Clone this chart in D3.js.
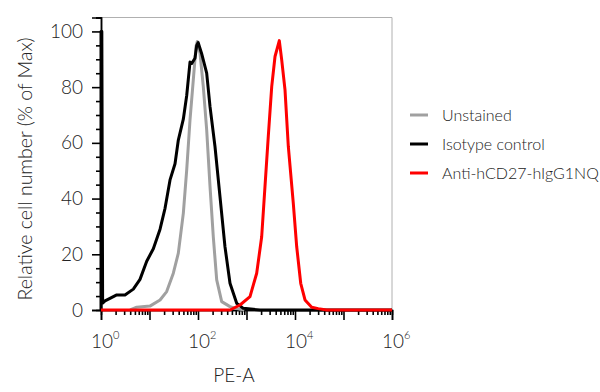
<!DOCTYPE html>
<html>
<head>
<meta charset="utf-8">
<script src="https://cdn.jsdelivr.net/npm/d3@7"></script>
<style>
body { margin: 0; background: #fff; }
text { font-family: Lato, sans-serif; fill: #222; }
</style>
</head>
<body>
<svg id="chart" width="600" height="392"></svg>
<script>
const svg = d3.select('#chart');

// series as [PE-A, % of max]
const seriesNames = ['Unstained', 'Isotype control', 'Anti-hCD27-hIgG1NQ'];
const seriesColors = ['#a0a0a0', '#000000', '#ff0000'];

const unstained = [
    [4, 0], [5.45, 1], [10.2, 1.4], [16.5, 3.6], [22.6, 6.6], [31, 13.2], [39.3, 20.4],
    [49.8, 34.7], [58.5, 50.3], [68.4, 68.2], [80, 82.6], [91, 94.6], [96.8, 96.4],
    [110, 92.2], [128.6, 80.2], [151, 64.7], [177, 44.3], [206.7, 26.3], [243, 10.8],
    [308, 3], [457, 1.2], [628, 0.5], [900, 0]
];

const isotype = [
    [1, 0], [1, 100], [1.04, 100], [1.08, 2.5], [1.21, 3.3], [1.53, 4.2], [2.11, 5.4],
    [3.12, 5.4], [4.64, 7.5], [6.37, 11], [8.76, 17.5], [12, 22], [16.5, 29], [20.9, 36.5],
    [26.5, 46.7], [33.6, 52.5], [39.3, 61], [49.8, 68.5], [58.5, 77], [68.4, 89],
    [74.1, 88.5], [86.7, 90.4], [94, 95], [101, 96], [119, 92], [151, 85], [177, 73],
    [224, 58.7], [284, 40.7], [360, 22.7], [457, 9.6], [628, 2.4], [859, 0.6],
    [1900, 0], [1e6, 0]
];

const antiCD27 = [
    [1, 0], [457, 0], [735, 1.8], [1181, 4.8], [1622, 13.2], [2056, 26.3], [2404, 44.3],
    [2813, 62.3], [3311, 80.2], [3873, 91], [4748, 96.7], [5318, 89.8], [6223, 79],
    [7281, 58.7], [9226, 38.3], [10843, 22.7], [13120, 9.6], [16080, 3.6], [22090, 1],
    [30200, 0.5], [45000, 0], [1e6, 0]
];

const seriesData = [unstained, isotype, antiCD27];

const xMajor = [1, 1e2, 1e4, 1e6];
const xExponents = ['0', '2', '4', '6'];
const yMajor = [0, 20, 40, 60, 80, 100];

const margin = { left: 101, right: 208, top: 17.5, bottom: 82 };
const width = 600, height = 392;

const x = d3.scaleLog().domain([1, 1e6]).range([margin.left, width - margin.right]);
const y = d3.scaleLinear().domain([0, 105]).range([height - margin.bottom, margin.top]);

// decade ticks + minor 2..9
let xDecades = d3.range(0, 7).map(k => Math.pow(10, k));
let xMinor = [];
for (let k = 0; k < 6; k++) {
    for (let m = 2; m <= 9; m++) xMinor.push(m * Math.pow(10, k));
}
let yMinor = d3.range(5, 106, 5).filter(v => v % 20 != 0);

// frame
svg.append('path')
    .attr('d', `M${x(1)},${y(105)}H${x(1e6)}V${y(0)}`)
    .attr('fill', 'none')
    .attr('stroke', '#b0b0b0')
    .attr('stroke-width', 1);

// y axis
const yAxis = svg.append('g').attr('transform', `translate(${x(1)},0)`)
    .call(d3.axisLeft(y).tickValues(yMajor).tickSize(9).tickPadding(9));
svg.append('g').attr('transform', `translate(${x(1)},0)`)
    .call(d3.axisLeft(y).tickValues(yMinor).tickSize(5).tickFormat(''));

// x axis
svg.append('g').attr('transform', `translate(0,${y(0)})`)
    .call(d3.axisBottom(x).tickValues(xDecades).tickSize(10).tickFormat(''));
svg.append('g').attr('transform', `translate(0,${y(0)})`)
    .call(d3.axisBottom(x).tickValues(xMinor).tickSize(5).tickFormat(''));

svg.selectAll('.domain').attr('stroke', '#000').attr('stroke-width', 1.5);
svg.selectAll('.tick line').attr('stroke', '#000').attr('stroke-width', 1.6);

yAxis.selectAll('text')
    .style('font-family', 'Lato, sans-serif')
    .style('font-size', '19px')
    .style('font-weight', 300)
    .attr('fill', '#222');

// x tick labels as 10 with superscript
const xLab = svg.append('g').selectAll('text')
    .data(xMajor)
    .enter()
    .append('text')
    .attr('x', d => x(d) - 10)
    .attr('y', 348)
    .style('font-size', '19px')
    .style('font-weight', 300);
xLab.append('tspan').text('10');
xLab.append('tspan')
    .attr('dy', -9)
    .style('font-size', '11px')
    .text((d, i) => xExponents[i]);

// axis titles
svg.append('text')
    .attr('x', 234)
    .attr('y', 382)
    .attr('text-anchor', 'middle')
    .style('font-size', '19px')
    .style('font-weight', 300)
    .text('PE-A');

svg.append('text')
    .attr('transform', `translate(32,169) rotate(-90)`)
    .attr('text-anchor', 'middle')
    .style('font-size', '19.5px')
    .style('font-weight', 300)
    .text('Relative cell number (% of Max)');

// curves
const line = d3.line()
    .x(d => x(d[0]))
    .y(d => y(d[1]));

svg.selectAll('.curve')
    .data(seriesData)
    .enter()
    .append('path')
    .attr('class', 'curve')
    .attr('d', d => line(d))
    .attr('fill', 'none')
    .attr('stroke', (d, i) => seriesColors[i])
    .attr('stroke-width', 3)
    .attr('stroke-linejoin', 'round');

// legend
const legend = svg.append('g').selectAll('g')
    .data(seriesNames)
    .enter()
    .append('g')
    .attr('transform', (d, i) => `translate(410,${115 + i * 29})`);

legend.append('path')
    .attr('d', 'M0,0H18')
    .attr('stroke', (d, i) => seriesColors[i])
    .attr('stroke-width', 3);

legend.append('text')
    .attr('x', 32)
    .attr('dy', '0.35em')
    .style('font-size', '16px')
    .style('font-weight', 300)
    .attr('fill', '#111')
    .text(d => d);
</script>
</body>
</html>
